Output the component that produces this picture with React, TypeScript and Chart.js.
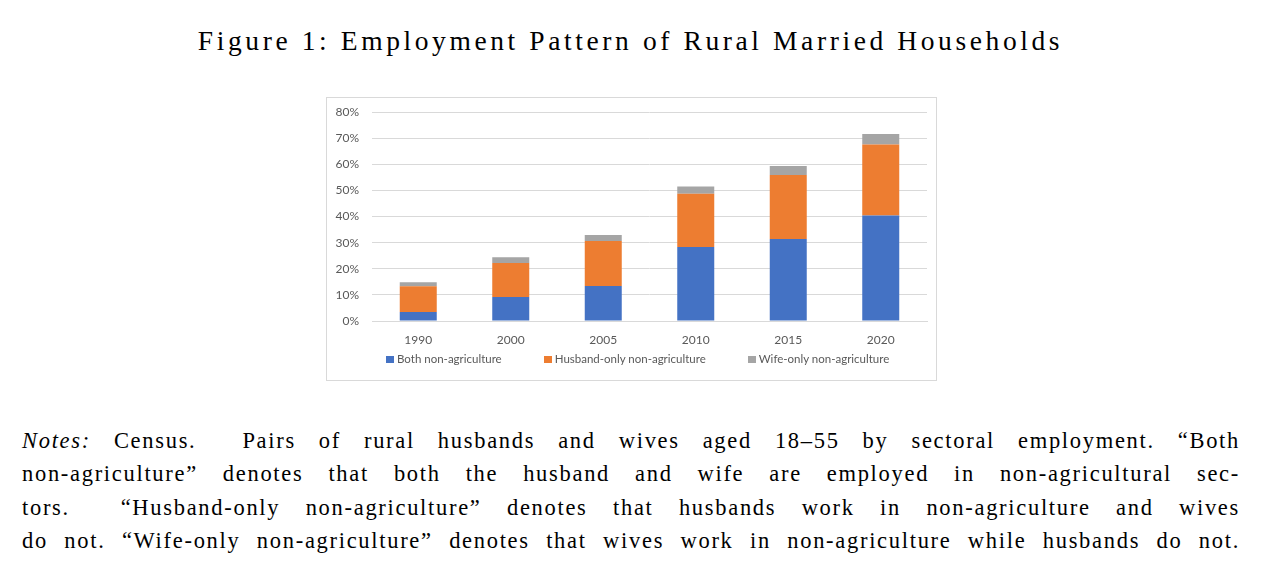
import { useEffect, useLayoutEffect, useRef, type ReactNode } from 'react'
import { Chart, BarController, BarElement, LinearScale, CategoryScale, Tooltip } from 'chart.js'

Chart.register(BarController, BarElement, LinearScale, CategoryScale, Tooltip)

const years = ['1990', '2000', '2005', '2010', '2015', '2020']
const bothNonAg = [3.4, 9.2, 13.4, 28.3, 31.4, 40.4]
const husbandOnly = [9.9, 13.0, 17.2, 20.4, 24.5, 27.2]
const wifeOnly = [1.5, 2.2, 2.3, 2.8, 3.4, 4.0]
const yTicks = [0, 10, 20, 30, 40, 50, 60, 70, 80]

const seriesLabels = ['Both non-agriculture', 'Husband-only non-agriculture', 'Wife-only non-agriculture']
const seriesColors = ['#4472c4', '#ed7d31', '#a5a5a5']

const textGray = '#595959'
const gridGray = '#d9d9d9'
const chartFont = 'Lato, "Open Sans", sans-serif'
const paperFont = '"Liberation Serif", "DejaVu Serif", serif'
const notesWidth = 1218

function EmploymentChart() {
  const canvasRef = useRef<HTMLCanvasElement | null>(null)
  const chartRef = useRef<Chart | null>(null)

  useEffect(() => {
    if (!canvasRef.current) return
    const ctx = canvasRef.current.getContext('2d')!
    const values = [bothNonAg, husbandOnly, wifeOnly]

    chartRef.current = new Chart(ctx, {
      type: 'bar',
      data: {
        labels: years,
        datasets: values.map((data, i) => ({
          label: seriesLabels[i],
          data,
          backgroundColor: seriesColors[i],
          borderWidth: 0,
          categoryPercentage: 1,
          barPercentage: 0.4,
        })),
      },
      options: {
        animation: false,
        responsive: false,
        maintainAspectRatio: false,
        layout: { padding: { top: 14, right: 9, bottom: 29, left: 0 } },
        plugins: {
          legend: { display: false },
          tooltip: { enabled: true },
        },
        scales: {
          x: {
            stacked: true,
            grid: { display: false, drawTicks: false },
            border: { color: gridGray },
            ticks: { color: textGray, padding: 12, font: { family: chartFont, size: 12 } },
            afterFit: (scale) => { scale.height = 30 },
          },
          y: {
            stacked: true,
            min: 0,
            max: 80,
            grid: { color: gridGray, drawTicks: true, tickLength: 10, tickColor: 'rgba(0,0,0,0)' },
            border: { display: false },
            ticks: {
              color: textGray,
              padding: 3,
              font: { family: chartFont, size: 12 },
              callback: (v) => `${v}%`,
            },
            afterBuildTicks: (scale) => { scale.ticks = yTicks.map((value) => ({ value })) },
            afterFit: (scale) => { scale.width = 45 },
          },
        },
      },
    })

    return () => chartRef.current?.destroy()
  }, [])

  return (
    <div
      style={{
        position: 'absolute',
        left: 326,
        top: 97,
        width: 611,
        height: 284,
        boxSizing: 'border-box',
        border: `1px solid ${gridGray}`,
        background: '#fff',
      }}
    >
      <canvas ref={canvasRef} width={609} height={282} style={{ display: 'block', width: 609, height: 282 }} />
      <div
        style={{
          position: 'absolute',
          left: 59,
          top: 254,
          display: 'flex',
          gap: 42,
          fontFamily: chartFont,
          fontSize: 11.5,
          color: textGray,
          lineHeight: '14px',
          whiteSpace: 'nowrap',
        }}
      >
        {seriesLabels.map((label, i) => (
          <div key={label} style={{ display: 'flex', alignItems: 'center' }}>
            <span style={{ width: 8, height: 7, background: seriesColors[i], marginRight: 3 }} />
            {label}
          </div>
        ))}
      </div>
    </div>
  )
}

// one justified line: spread the spaces so the line is exactly notesWidth wide
function NoteLine({ children }: { children: ReactNode }) {
  const ref = useRef<HTMLSpanElement | null>(null)

  useLayoutEffect(() => {
    const el = ref.current
    if (!el) return
    el.style.wordSpacing = '0px'
    const natural = el.getBoundingClientRect().width
    const spaces = (el.textContent || '').match(/[ \u00a0]/g)?.length || 0
    if (spaces) el.style.wordSpacing = `${(notesWidth - natural) / spaces}px`
  }, [])

  return (
    <div>
      <span ref={ref} style={{ display: 'inline-block', whiteSpace: 'pre' }}>{children}</span>
    </div>
  )
}

const noteLines = [
  <><i>Notes:</i> Census.{'\u00a0'} Pairs of rural husbands and wives aged 18–55 by sectoral employment. “Both</>,
  <>non-agriculture” denotes that both the husband and wife are employed in non-agricultural sec-</>,
  <>tors.{'\u00a0'} “Husband-only non-agriculture” denotes that husbands work in non-agriculture and wives</>,
  <>do not. “Wife-only non-agriculture” denotes that wives work in non-agriculture while husbands do not.</>,
]

export default function App() {
  return (
    <div style={{ position: 'absolute', left: 0, top: 0, width: 1261, height: 581, background: '#fff', fontFamily: paperFont, color: '#000' }}>
      <div
        style={{
          position: 'absolute',
          left: 0,
          top: 26,
          width: 1261,
          textAlign: 'center',
          fontSize: 27.5,
          lineHeight: '30px',
          letterSpacing: 3.6,
        }}
      >
        Figure 1: Employment Pattern of Rural Married Households
      </div>
      <EmploymentChart />
      <div style={{ position: 'absolute', left: 22, top: 424, width: notesWidth, fontSize: 22.5, lineHeight: '33.3px', letterSpacing: 1.7 }}>
        {noteLines.map((line, i) => (
          <NoteLine key={i}>{line}</NoteLine>
        ))}
      </div>
    </div>
  )
}
